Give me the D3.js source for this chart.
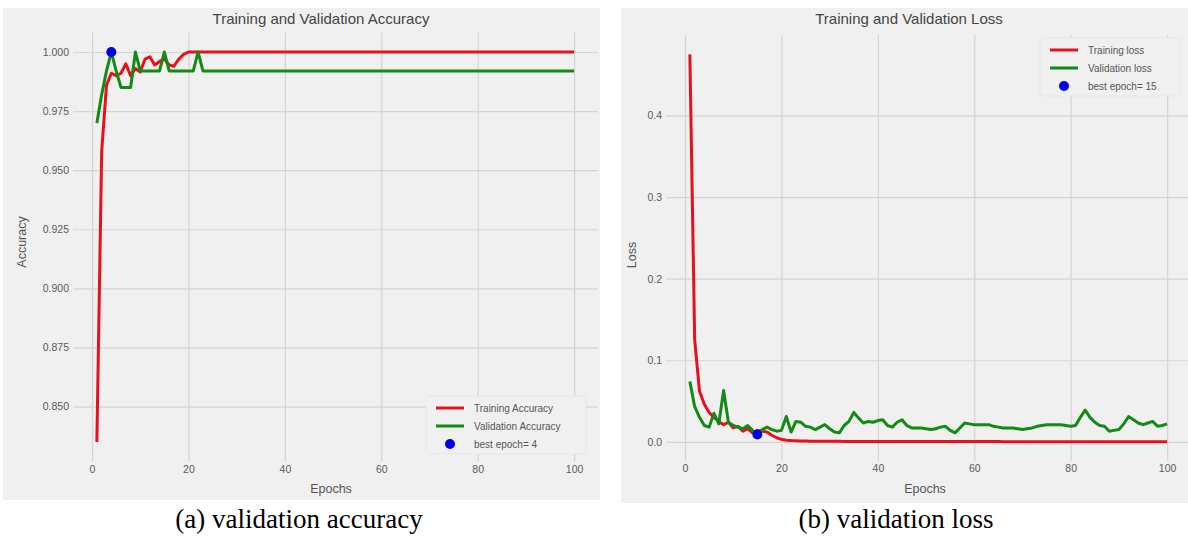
<!DOCTYPE html>
<html lang="en">
<head>
  <meta charset="UTF-8">
  <title>Training and Validation Accuracy / Loss</title>
  <style>
    body { margin: 0; background: #fff; }
    text { font-family: "Liberation Sans", Arial, sans-serif; }
  </style>
</head>
<body>
  <script src="https://d3js.org/d3.v7.min.js"></script>
  <script>

    // epochs 1..100
    const epochs = d3.range(1, 101);

    const trainAcc = [
      0.835, 0.958, 0.986, 0.991, 0.990, 0.991, 0.995, 0.990, 0.993, 0.9915,
      0.997, 0.998, 0.9945, 0.996, 0.997, 0.9945, 0.994, 0.997, 0.999, 1.0,
      1.0, 1.0, 1.0, 1.0, 1.0, 1.0, 1.0, 1.0, 1.0, 1.0,
      1.0, 1.0, 1.0, 1.0, 1.0, 1.0, 1.0, 1.0, 1.0, 1.0,
      1.0, 1.0, 1.0, 1.0, 1.0, 1.0, 1.0, 1.0, 1.0, 1.0,
      1.0, 1.0, 1.0, 1.0, 1.0, 1.0, 1.0, 1.0, 1.0, 1.0,
      1.0, 1.0, 1.0, 1.0, 1.0, 1.0, 1.0, 1.0, 1.0, 1.0,
      1.0, 1.0, 1.0, 1.0, 1.0, 1.0, 1.0, 1.0, 1.0, 1.0,
      1.0, 1.0, 1.0, 1.0, 1.0, 1.0, 1.0, 1.0, 1.0, 1.0,
      1.0, 1.0, 1.0, 1.0, 1.0, 1.0, 1.0, 1.0, 1.0, 1.0
    ];

    const valAcc = [
      0.970, 0.982, 0.992, 1.0, 0.992, 0.985, 0.985, 0.985, 1.0, 0.992,
      0.992, 0.992, 0.992, 0.992, 1.0, 0.992, 0.992, 0.992, 0.992, 0.992,
      0.992, 1.0, 0.992, 0.992, 0.992, 0.992, 0.992, 0.992, 0.992, 0.992,
      0.992, 0.992, 0.992, 0.992, 0.992, 0.992, 0.992, 0.992, 0.992, 0.992,
      0.992, 0.992, 0.992, 0.992, 0.992, 0.992, 0.992, 0.992, 0.992, 0.992,
      0.992, 0.992, 0.992, 0.992, 0.992, 0.992, 0.992, 0.992, 0.992, 0.992,
      0.992, 0.992, 0.992, 0.992, 0.992, 0.992, 0.992, 0.992, 0.992, 0.992,
      0.992, 0.992, 0.992, 0.992, 0.992, 0.992, 0.992, 0.992, 0.992, 0.992,
      0.992, 0.992, 0.992, 0.992, 0.992, 0.992, 0.992, 0.992, 0.992, 0.992,
      0.992, 0.992, 0.992, 0.992, 0.992, 0.992, 0.992, 0.992, 0.992, 0.992
    ];

    const trainLoss = [
      0.475, 0.125, 0.062, 0.046, 0.036, 0.030, 0.025, 0.021, 0.024, 0.017,
      0.019, 0.013, 0.016, 0.011, 0.014, 0.013, 0.012, 0.008, 0.005, 0.003,
      0.002, 0.0015, 0.0012, 0.0010, 0.0009, 0.0008, 0.0008, 0.0007, 0.0007, 0.0006,
      0.0006, 0.0006, 0.0005, 0.0005, 0.0005, 0.0005, 0.0005, 0.0004, 0.0004, 0.0004,
      0.0004, 0.0004, 0.0004, 0.0004, 0.0003, 0.0003, 0.0003, 0.0003, 0.0003, 0.0003,
      0.0003, 0.0003, 0.0003, 0.0003, 0.0003, 0.0003, 0.0003, 0.0003, 0.0003, 0.0003,
      0.0003, 0.0003, 0.0003, 0.0003, 0.0003, 0.0002, 0.0002, 0.0002, 0.0002, 0.0002,
      0.0002, 0.0002, 0.0002, 0.0002, 0.0002, 0.0002, 0.0002, 0.0002, 0.0002, 0.0002,
      0.0002, 0.0002, 0.0002, 0.0002, 0.0002, 0.0002, 0.0002, 0.0002, 0.0002, 0.0002,
      0.0002, 0.0002, 0.0002, 0.0002, 0.0002, 0.0002, 0.0002, 0.0002, 0.0002, 0.0002
    ];

    const valLoss = [
      0.074, 0.043, 0.030, 0.020, 0.018, 0.035, 0.022, 0.063, 0.024, 0.020,
      0.018, 0.016, 0.020, 0.014, 0.009, 0.015, 0.018, 0.015, 0.013, 0.014,
      0.031, 0.012, 0.025, 0.024, 0.019, 0.018, 0.015, 0.018, 0.021, 0.016,
      0.012, 0.011, 0.020, 0.025, 0.036, 0.029, 0.023, 0.025, 0.024, 0.026,
      0.027, 0.020, 0.018, 0.024, 0.027, 0.020, 0.017, 0.017, 0.017, 0.016,
      0.015, 0.016, 0.018, 0.019, 0.014, 0.011, 0.017, 0.023, 0.022, 0.021,
      0.021, 0.021, 0.021, 0.019, 0.018, 0.017, 0.017, 0.017, 0.016, 0.015,
      0.016, 0.017, 0.019, 0.020, 0.021, 0.021, 0.021, 0.021, 0.020, 0.019,
      0.020, 0.030, 0.039, 0.030, 0.024, 0.020, 0.019, 0.013, 0.014, 0.015,
      0.022, 0.031, 0.027, 0.023, 0.021, 0.023, 0.025, 0.019, 0.020, 0.022
    ];

    const epochTicks = [0, 20, 40, 60, 80, 100];
    const accTicks = [0.850, 0.875, 0.900, 0.925, 0.950, 0.975, 1.000];
    const lossTicks = [0.0, 0.1, 0.2, 0.3, 0.4];

    const bestAccEpoch = 4;
    const bestLossEpoch = 15;

    const RED = "#e8101c", GREEN = "#138a13", BLUE = "#0000e6";

    const svg = d3.select("body").append("svg")
      .attr("width", 1188)
      .attr("height", 536);

    // matplotlib-style 5% padding
    function padded(ext) {
      const m = (ext[1] - ext[0]) * 0.05;
      return [ext[0] - m, ext[1] + m];
    }

    function drawPanel(p) {
      const g = svg.append("g");

      g.append("rect")
        .attr("x", p.panel[0]).attr("y", p.panel[1])
        .attr("width", p.panel[2]).attr("height", p.panel[3])
        .attr("fill", "#f0f0f0");

      const x = d3.scaleLinear()
        .domain(padded(d3.extent(epochs)))
        .range([p.left, p.right]);

      const yExt = d3.extent(p.series[0].values.concat(p.series[1].values));
      const y = d3.scaleLinear()
        .domain(padded(yExt))
        .range([p.bottom, p.top]);

      // grid + ticks
      const yAxis = g.append("g")
        .attr("transform", `translate(${p.left},0)`)
        .call(d3.axisLeft(y).tickValues(p.yTicks).tickFormat(d3.format(p.yFmt))
          .tickSize(-(p.right - p.left)).tickPadding(4));
      const xAxis = g.append("g")
        .attr("transform", `translate(0,${p.bottom})`)
        .call(d3.axisBottom(x).tickValues(epochTicks).tickFormat(d3.format("d"))
          .tickSize(-(p.bottom - p.top)).tickPadding(4));

      [xAxis, yAxis].forEach(a => {
        a.select(".domain").remove();
        a.selectAll(".tick line").attr("stroke", "#d4d4d4").attr("stroke-width", 1.2);
        a.selectAll(".tick text").attr("fill", "#5a5a5a").attr("font-size", 10.5);
      });

      const line = d3.line()
        .x((d, i) => x(epochs[i]))
        .y(d => y(d));

      p.series.forEach(s => {
        g.append("path")
          .datum(s.values)
          .attr("fill", "none")
          .attr("stroke", s.color)
          .attr("stroke-width", 3)
          .attr("stroke-linejoin", "round")
          .attr("d", line);
      });

      g.append("circle")
        .attr("cx", x(p.best))
        .attr("cy", y(p.bestValue))
        .attr("r", 5)
        .attr("fill", BLUE);

      g.append("text")
        .attr("x", p.titleX).attr("y", 24)
        .attr("text-anchor", "middle")
        .attr("font-size", 15)
        .attr("fill", "#444")
        .text(p.title);

      g.append("text")
        .attr("x", p.xLabelX).attr("y", 493)
        .attr("text-anchor", "middle")
        .attr("font-size", 12.5)
        .attr("fill", "#555")
        .text("Epochs");

      g.append("text")
        .attr("transform", `translate(${p.yLabelX},${p.yLabelY}) rotate(-90)`)
        .attr("text-anchor", "middle")
        .attr("font-size", 12.5)
        .attr("fill", "#555")
        .text(p.yLabel);

      // legend
      const lg = g.append("g").attr("transform", `translate(${p.legend[0]},${p.legend[1]})`);
      lg.append("rect")
        .attr("x", 0).attr("y", 0)
        .attr("width", p.legend[2]).attr("height", 58)
        .attr("rx", 3)
        .attr("fill", "#f0f0f0")
        .attr("stroke", "#e6e6e6");
      const items = [
        { label: p.series[0].label, color: p.series[0].color, kind: "line" },
        { label: p.series[1].label, color: p.series[1].color, kind: "line" },
        { label: `best epoch= ${p.best}`, color: BLUE, kind: "dot" }
      ];
      items.forEach((it, i) => {
        const cy = 12 + i * 18;
        if (it.kind === "line") {
          lg.append("line")
            .attr("x1", 10).attr("x2", 38)
            .attr("y1", cy).attr("y2", cy)
            .attr("stroke", it.color).attr("stroke-width", 3);
        } else {
          lg.append("circle").attr("cx", 24).attr("cy", cy).attr("r", 5).attr("fill", it.color);
        }
        lg.append("text")
          .attr("x", 48).attr("y", cy + 3.5)
          .attr("font-size", 10)
          .attr("fill", "#555")
          .text(it.label);
      });

      // caption
      svg.append("text")
        .attr("x", p.captionX).attr("y", 528)
        .attr("text-anchor", "middle")
        .style("font-family", "'Liberation Serif', 'Times New Roman', serif")
        .attr("font-size", 27)
        .attr("fill", "#000")
        .text(p.caption);
    }

    drawPanel({
      panel: [3, 8, 597, 492],
      left: 73, right: 598, top: 32.5, bottom: 461.5,
      series: [
        { values: trainAcc, color: RED, label: "Training Accuracy" },
        { values: valAcc, color: GREEN, label: "Validation Accuracy" }
      ],
      yTicks: accTicks, yFmt: ".3f",
      best: bestAccEpoch, bestValue: valAcc[bestAccEpoch - 1],
      title: "Training and Validation Accuracy", titleX: 321,
      xLabelX: 331, yLabel: "Accuracy", yLabelX: 26, yLabelY: 242,
      legend: [426, 396, 160],
      caption: "(a) validation accuracy", captionX: 299
    });

    drawPanel({
      panel: [621, 8, 567, 495],
      left: 666, right: 1191, top: 35, bottom: 461,
      series: [
        { values: trainLoss, color: RED, label: "Training loss" },
        { values: valLoss, color: GREEN, label: "Validation loss" }
      ],
      yTicks: lossTicks, yFmt: ".1f",
      best: bestLossEpoch, bestValue: valLoss[bestLossEpoch - 1],
      title: "Training and Validation Loss", titleX: 909,
      xLabelX: 925, yLabel: "Loss", yLabelX: 636, yLabelY: 255,
      legend: [1040, 38, 140],
      caption: "(b) validation loss", captionX: 896
    });

  </script>
</body>
</html>
